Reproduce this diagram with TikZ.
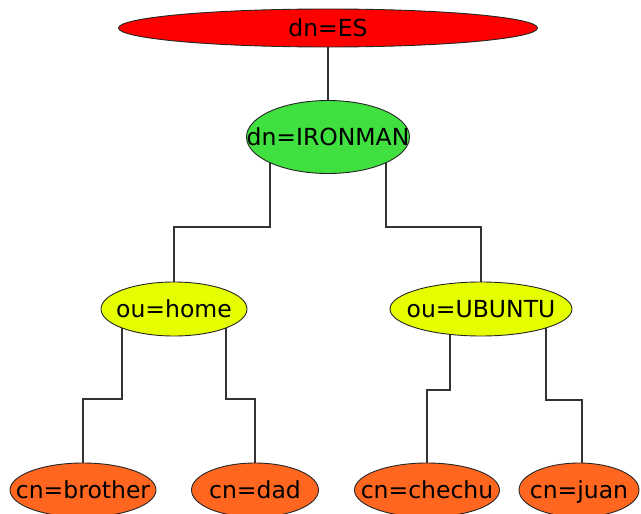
\documentclass[tikz,border=0pt]{standalone}
\usepackage{fontspec}
\setmainfont{DejaVu Sans}
\usetikzlibrary{shapes.geometric,backgrounds}
\definecolor{esred}{HTML}{FF0000}
\definecolor{irgreen}{HTML}{40E040}
\definecolor{ouyellow}{HTML}{E6FF00}
\definecolor{cnorange}{HTML}{FF6620}
\begin{document}
\begin{tikzpicture}[x=1pt,y=-1pt,
  ent/.style={ellipse,draw=black!85,line width=0.9pt,inner sep=0pt,
    label distance=0pt},
  every label/.style={font=\fontsize{23.5}{26}\selectfont,text=black,inner sep=0pt,
    text height=16pt,text depth=0pt},
  link/.style={draw=black!80,line width=1.1pt}]
\useasboundingbox (0,0) rectangle (641,514);
\clip (0,0) rectangle (641,514);
\node[ent,fill=esred,minimum width=419pt,minimum height=38pt,label={center:dn=ES}] (es) at (328,28) {};
\node[ent,fill=irgreen,minimum width=163pt,minimum height=73pt,label={center:dn=IRONMAN}] (iron) at (328,137) {};
\node[ent,fill=ouyellow,minimum width=146pt,minimum height=54pt,label={center:ou=home}] (home) at (174,309) {};
\node[ent,fill=ouyellow,minimum width=182pt,minimum height=54pt,label={center:ou=UBUNTU}] (ubuntu) at (481,309) {};
\node[ent,fill=cnorange,minimum width=146pt,minimum height=54pt,label={center:cn=brother}] (brother) at (83,490) {};
\node[ent,fill=cnorange,minimum width=127pt,minimum height=54pt,label={center:cn=dad}] (dad) at (255,490) {};
\node[ent,fill=cnorange,minimum width=145pt,minimum height=54pt,label={center:cn=chechu}] (chechu) at (427,490) {};
\node[ent,fill=cnorange,minimum width=120pt,minimum height=54pt,label={center:cn=juan}] (juan) at (579,490) {};
\begin{scope}[on background layer]
\draw[link] (es) -- (iron);
\draw[link] ([xshift=-58pt]iron.center) -- ++(0,90) -| (home);
\draw[link] ([xshift=58pt]iron.center) -- ++(0,90) -| (ubuntu);
\draw[link] ([xshift=-52pt]home.center) -- ++(0,90) -| (brother);
\draw[link] ([xshift=52pt]home.center) -- ++(0,90) -| (dad);
\draw[link] ([xshift=-31pt]ubuntu.center) -- ++(0,81) -| (chechu);
\draw[link] ([xshift=65pt]ubuntu.center) -- ++(0,91) -| ([xshift=3pt]juan.center);
\end{scope}
\end{tikzpicture}
\end{document}
